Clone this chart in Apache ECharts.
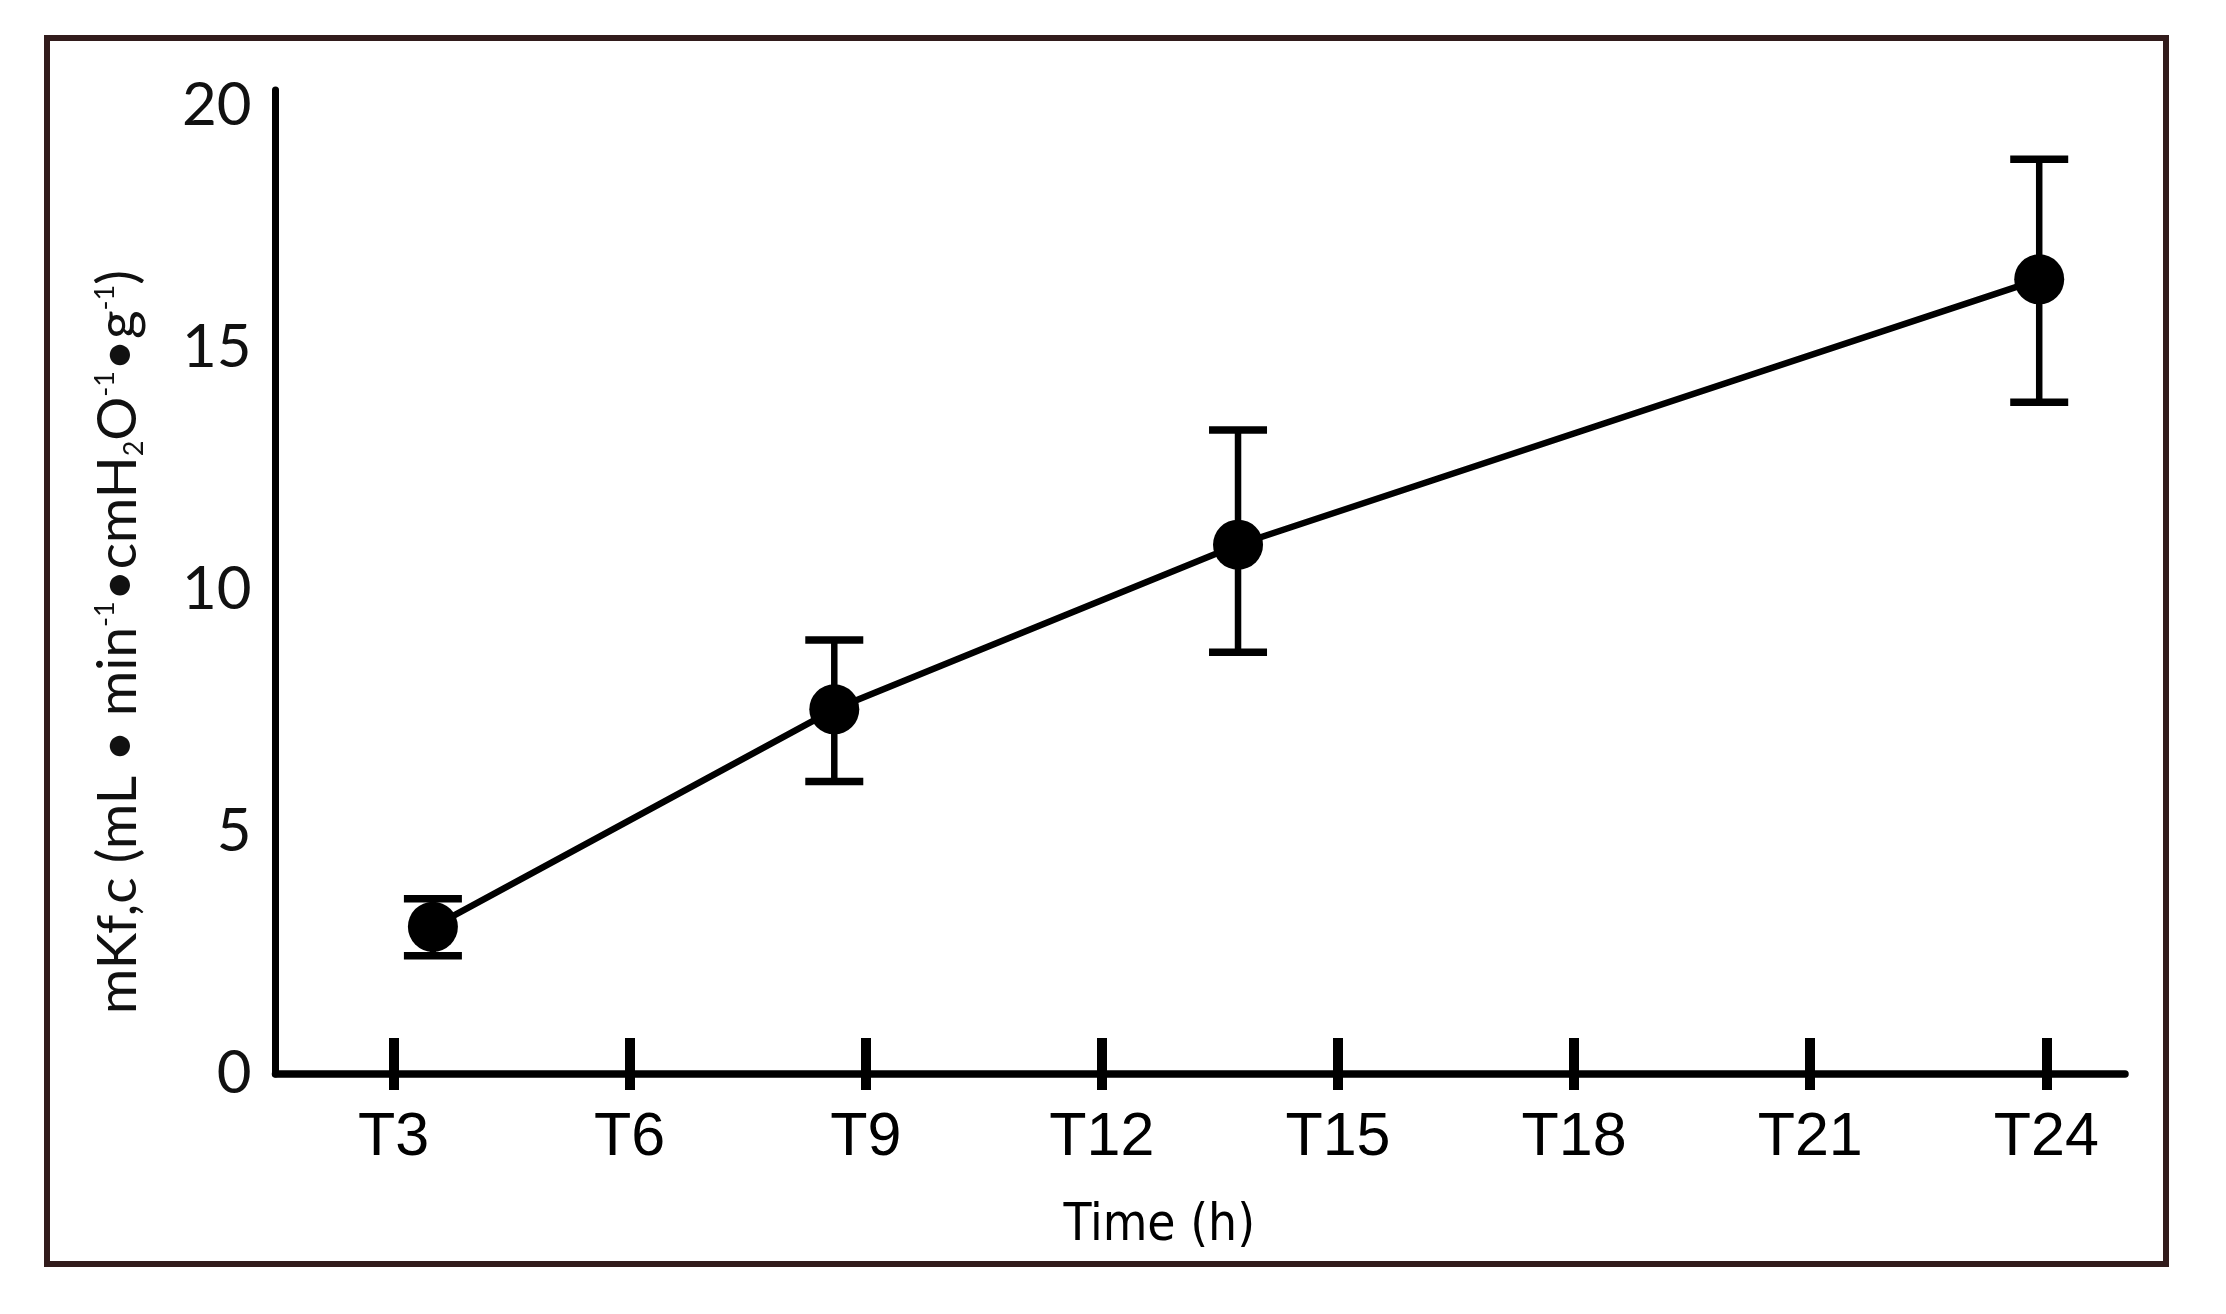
<!DOCTYPE html>
<html>
<head>
<meta charset="utf-8">
<script src="https://cdn.jsdelivr.net/npm/echarts@6/dist/echarts.min.js"></script>
<style>
  html, body { margin: 0; padding: 0; background: #ffffff; }
  #chart { width: 2226px; height: 1314px; }
</style>
</head>
<body>
<div id="chart"></div>
<script>
// ---- data ----
const tickHours = [3, 6, 9, 12, 15, 18, 21, 24];
const tickLabels = ['T3', 'T6', 'T9', 'T12', 'T15', 'T18', 'T21', 'T24'];
const yTicks = [0, 5, 10, 15, 20];
const pointHours = [3.50, 8.60, 13.73, 23.91];
const meanValues = [3.04, 7.53, 10.93, 16.41];
const errLow = [2.44, 6.04, 8.71, 13.87];
const errHigh = [3.62, 8.96, 13.30, 18.89];

const lineData = pointHours.map((h, i) => [h, meanValues[i]]);
const errData = pointHours.map((h, i) => [h, errLow[i], errHigh[i]]);
const labelFor = v => tickLabels[tickHours.indexOf(v)] || '';

const chart = echarts.init(document.getElementById('chart'), null, { renderer: 'canvas' });

const titleFont = "Lato, 'Open Sans', sans-serif";

const option = {
  backgroundColor: '#ffffff',
  animation: false,
  grid: {
    left: 275.5, right: 101, top: 90, bottom: 240,
    containLabel: false, outerBoundsMode: 'none'
  },
  xAxis: [
    {
      type: 'value', min: 1.5, max: 25, position: 'bottom',
      axisLine: { show: true, onZero: false, lineStyle: { color: '#000', width: 7.5 } },
      axisTick: { show: true, inside: false, length: 16, customValues: tickHours,
                  lineStyle: { color: '#000', width: 10 } },
      axisLabel: { show: true, customValues: tickHours, formatter: labelFor,
                   fontFamily: "'Liberation Sans', Arial, sans-serif", fontSize: 61,
                   color: '#000', margin: 34 },
      splitLine: { show: false },
      name: 'Time (h)', nameLocation: 'middle', nameGap: 127,
      nameTextStyle: { fontFamily: "'Liberation Sans Narrow', 'DejaVu Sans Condensed', 'Liberation Sans', sans-serif",
                       fontSize: 51, color: '#000', padding: [0, 82, 0, 0] }
    },
    {
      type: 'value', min: 1.5, max: 25, position: 'bottom', offset: 0,
      axisLine: { show: false, onZero: false },
      axisTick: { show: true, inside: true, length: 36, customValues: tickHours,
                  lineStyle: { color: '#000', width: 10 } },
      axisLabel: { show: false },
      splitLine: { show: false }
    }
  ],
  yAxis: {
    type: 'value', min: 0, max: 20.32,
    axisLine: { show: true, lineStyle: { color: '#000', width: 7 } },
    axisTick: { show: false },
    axisLabel: { show: true, customValues: yTicks, fontFamily: titleFont,
                 fontSize: 60, color: '#111', margin: 24 },
    splitLine: { show: false },
    name: '{n|mKf,c (mL • min}{sup|-1}{n|•cmH}{sub|2}{n|O}{sup|-1}{n|•g}{sup|-1}{n|)}',
    nameLocation: 'middle', nameRotate: 90, nameGap: 128,
    nameTextStyle: {
      padding: [0, 120, 0, 0],
      rich: {
        n: { fontFamily: titleFont, fontSize: 55, color: '#111', lineHeight: 58 },
        sup: { fontFamily: titleFont, fontSize: 27, color: '#111', verticalAlign: 'top', lineHeight: 58, padding: [2, 0, 0, 0] },
        sub: { fontFamily: titleFont, fontSize: 27, color: '#111', verticalAlign: 'bottom', lineHeight: 58 }
      }
    }
  },
  graphic: [
    {
      type: 'rect', z: -10, silent: true,
      shape: { x: 47, y: 38, width: 2119, height: 1226 },
      style: { fill: 'transparent', stroke: '#321c1c', lineWidth: 6 }
    }
  ],
  series: [
    {
      type: 'custom', name: 'SD', xAxisIndex: 0, yAxisIndex: 0,
      data: errData,
      encode: { x: 0, y: [1, 2] },
      z: 2,
      renderItem: function (params, api) {
        const x = api.value(0);
        const lo = api.coord([x, api.value(1)]);
        const hi = api.coord([x, api.value(2)]);
        const hw = 29;
        return {
          type: 'group',
          children: [
            { type: 'line', shape: { x1: lo[0], y1: lo[1], x2: hi[0], y2: hi[1] },
              style: { stroke: '#000', lineWidth: 6.5 } },
            { type: 'line', shape: { x1: hi[0] - hw, y1: hi[1], x2: hi[0] + hw, y2: hi[1] },
              style: { stroke: '#000', lineWidth: 7.5 } },
            { type: 'line', shape: { x1: lo[0] - hw, y1: lo[1], x2: lo[0] + hw, y2: lo[1] },
              style: { stroke: '#000', lineWidth: 7.5 } }
          ]
        };
      }
    },
    {
      type: 'line', name: 'mKf,c', xAxisIndex: 0, yAxisIndex: 0,
      data: lineData,
      z: 3,
      symbol: 'circle', symbolSize: 50,
      lineStyle: { color: '#000', width: 6.5 },
      itemStyle: { color: '#000' }
    }
  ]
};
chart.setOption(option);
</script>
</body>
</html>
